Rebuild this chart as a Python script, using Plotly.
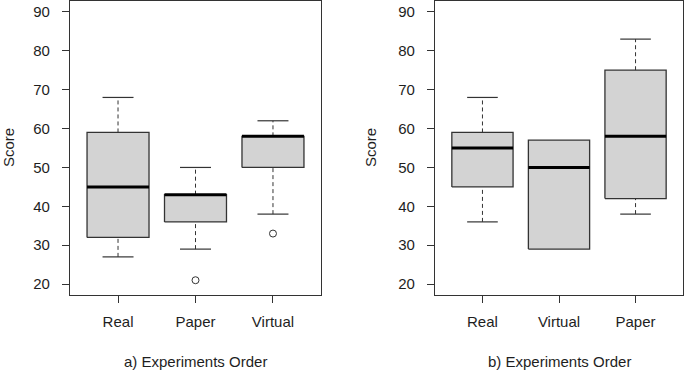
import plotly.graph_objects as go

# ---- data ----
cats_a = ["Real", "Paper", "Virtual"]
low_a = [27, 29, 38]
q1_a = [32, 36, 50]
med_a = [45, 43, 58]
q3_a = [59, 43, 58]
high_a = [68, 50, 62]
out_a_x = ["Paper", "Virtual"]
out_a_y = [21, 33]

cats_b = ["Real", "Virtual", "Paper"]
low_b = [36, 29, 38]
q1_b = [45, 29, 42]
med_b = [55, 50, 58]
q3_b = [59, 57, 75]
high_b = [68, 57, 83]
out_b_x = []
out_b_y = []

y_ticks = [20, 30, 40, 50, 60, 70, 80, 90]

FONT = "Liberation Sans, Arial, sans-serif"
TXT = "#1e1e1e"
EDGE = "#333333"
FILL = "#d3d3d3"
BOXW = 0.4   # half box width
CAPW = 0.2   # half staple width
FS = 15

fig = go.Figure()


def add_panel(cats, low, q1, med, q3, high, ox, oy, xa, ya):
    for i, c in enumerate(cats):
        p = i + 1
        if low[i] < q1[i]:
            fig.add_trace(go.Scatter(x=[p, p], y=[low[i], q1[i]], mode="lines",
                                     line=dict(color=EDGE, width=1, dash="4px,3px"),
                                     xaxis=xa, yaxis=ya, hoverinfo="skip"))
            fig.add_trace(go.Scatter(x=[p - CAPW, p + CAPW], y=[low[i], low[i]], mode="lines",
                                     line=dict(color=EDGE, width=1.2),
                                     xaxis=xa, yaxis=ya, hoverinfo="skip"))
        if high[i] > q3[i]:
            fig.add_trace(go.Scatter(x=[p, p], y=[q3[i], high[i]], mode="lines",
                                     line=dict(color=EDGE, width=1, dash="4px,3px"),
                                     xaxis=xa, yaxis=ya, hoverinfo="skip"))
            fig.add_trace(go.Scatter(x=[p - CAPW, p + CAPW], y=[high[i], high[i]], mode="lines",
                                     line=dict(color=EDGE, width=1.2),
                                     xaxis=xa, yaxis=ya, hoverinfo="skip"))
        fig.add_trace(go.Scatter(x=[p - BOXW, p + BOXW, p + BOXW, p - BOXW, p - BOXW],
                                 y=[q1[i], q1[i], q3[i], q3[i], q1[i]],
                                 mode="lines", fill="toself", fillcolor=FILL,
                                 line=dict(color=EDGE, width=1.3),
                                 xaxis=xa, yaxis=ya, hoverinfo="skip"))
        fig.add_trace(go.Scatter(x=[p - BOXW, p + BOXW], y=[med[i], med[i]], mode="lines",
                                 line=dict(color="black", width=3),
                                 xaxis=xa, yaxis=ya, hoverinfo="skip"))
    if ox:
        fig.add_trace(go.Scatter(x=[cats.index(c) + 1 for c in ox], y=oy, mode="markers",
                                 marker=dict(symbol="circle-open", size=7,
                                             color=EDGE, line=dict(width=1)),
                                 xaxis=xa, yaxis=ya, hoverinfo="skip"))


add_panel(cats_a, low_a, q1_a, med_a, q3_a, high_a, out_a_x, out_a_y, "x", "y")
add_panel(cats_b, low_b, q1_b, med_b, q3_b, high_b, out_b_x, out_b_y, "x2", "y2")

W, H = 685, 370
ydom = [1 - 295 / H, 1 - 1 / H]

axis_common = dict(showline=True, linecolor=EDGE, linewidth=1.3, mirror=True,
                   ticks="outside", ticklen=7, tickcolor=EDGE, tickwidth=1.2, showgrid=False,
                   zeroline=False, tickfont=dict(family=FONT, size=FS, color=TXT))

fig.update_layout(
    width=W, height=H,
    margin=dict(l=0, r=0, t=0, b=0),
    paper_bgcolor="white", plot_bgcolor="white",
    showlegend=False,
    font=dict(family=FONT, color=TXT, size=FS),
    xaxis=dict(domain=[70 / W, 321 / W], range=[0.38, 3.62],
               tickvals=[1, 2, 3], ticktext=cats_a, anchor="y",
               ticklabelstandoff=6, **axis_common),
    yaxis=dict(domain=ydom, range=[17.2, 92.8], tickvals=y_ticks, anchor="x",
               ticklabelstandoff=9, **axis_common),
    xaxis2=dict(domain=[435 / W, 683 / W], range=[0.38, 3.62],
                tickvals=[1, 2, 3], ticktext=cats_b, anchor="y2",
                ticklabelstandoff=6, **axis_common),
    yaxis2=dict(domain=ydom, range=[17.2, 92.8], tickvals=y_ticks, anchor="x2",
                ticklabelstandoff=9, **axis_common),
)

ann = dict(xref="paper", yref="paper", showarrow=False, xanchor="center", yanchor="middle",
           font=dict(family=FONT, size=FS, color=TXT))
fig.add_annotation(text="a) Experiments Order", x=(70 + 321) / 2 / W, y=1 - 361 / H, **ann)
fig.add_annotation(text="b) Experiments Order", x=(435 + 683) / 2 / W, y=1 - 361 / H, **ann)
fig.add_annotation(text="Score", x=8 / W, y=1 - 148 / H, textangle=-90, **ann)
fig.add_annotation(text="Score", x=370 / W, y=1 - 148 / H, textangle=-90, **ann)

fig.write_html("out.html", config={"displayModeBar": False},
               post_script="document.body.style.margin='0';")
